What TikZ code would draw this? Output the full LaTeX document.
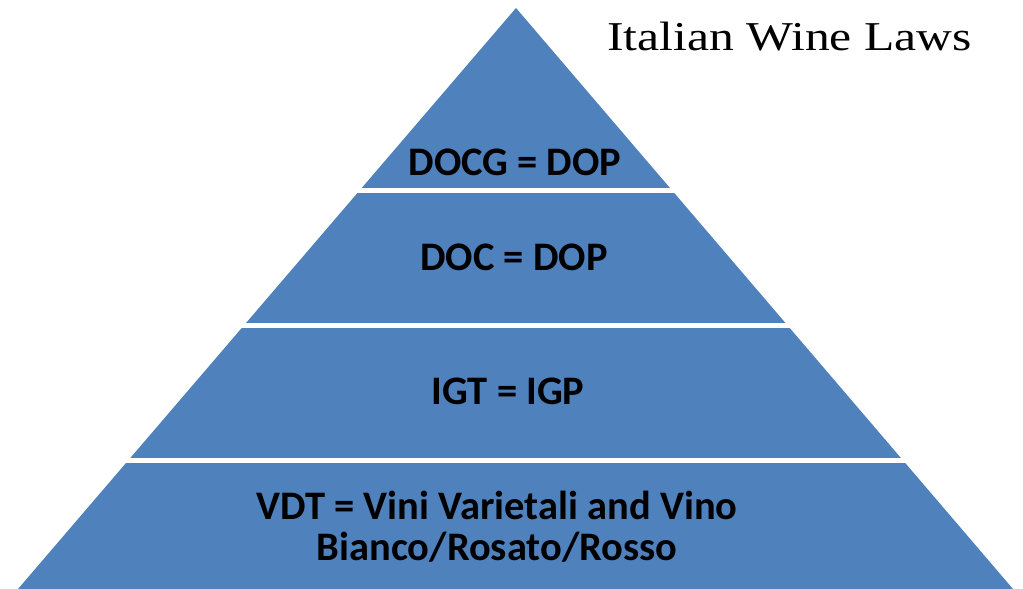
\documentclass[tikz,border=0pt]{standalone}
\usepackage{fontspec}
\setmainfont{Carlito}
\newfontfamily\titlefont{Liberation Serif}
\definecolor{tierblue}{HTML}{4F81BD}
\begin{document}
\begin{tikzpicture}[x=1pt,y=-1pt,
  tier/.style={font=\fontsize{40.5}{41}\selectfont\bfseries, text=black, align=center, inner sep=0pt},
  gap/.style={fill=white}]
\useasboundingbox (0,0) rectangle (1023,589);
% pyramid outline, cut into four tiers by thin white bands
\coordinate (apex) at (516,8);
\coordinate (bl) at (18,589);
\coordinate (br) at (1013,589);
\fill[tierblue] (apex) -- (bl) -- (br) -- cycle;
\fill[gap] (0,188) rectangle (1023,193);
\fill[gap] (0,323) rectangle (1023,327.5);
\fill[gap] (0,458) rectangle (1023,462.5);
% tier labels
\node[tier] (docg) at (515,162) {DOCG = DOP};
\node[tier] (doc) at (514,257) {DOC = DOP};
\node[tier] (igt) at (508,391) {IGT = IGP};
\node[tier] (vdt) at (497,527) {VDT = Vini Varietali and Vino\\Bianco/Rosato/Rosso};
% title
\node[anchor=base west, inner sep=0pt, font=\titlefont\fontsize{41}{41}\selectfont] (title) at (607,50) {\scalebox{1.21}[1]{Italian Wine Laws}};
\end{tikzpicture}
\end{document}
